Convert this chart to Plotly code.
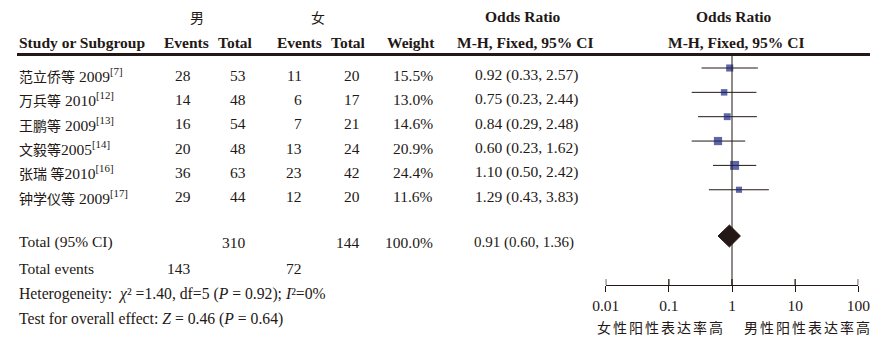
import math
import re
import plotly.graph_objects as go

W, H = 894, 341

# ---- data ----
studies = ["范立侨等 2009", "万兵等 2010", "王鹏等 2009", "文毅等2005", "张瑞 等2010", "钟学仪等 2009"]
refs = ["[7]", "[12]", "[13]", "[14]", "[16]", "[17]"]
male_events = [28, 14, 16, 20, 36, 29]
male_total = [53, 48, 54, 48, 63, 44]
female_events = [11, 6, 7, 13, 23, 12]
female_total = [20, 17, 21, 24, 42, 20]
weights = [15.5, 13.0, 14.6, 20.9, 24.4, 11.6]
odds = [0.92, 0.75, 0.84, 0.60, 1.10, 1.29]
ci_low = [0.33, 0.23, 0.29, 0.23, 0.50, 0.43]
ci_high = [2.57, 2.44, 2.48, 1.62, 2.42, 3.83]

pooled_or, pooled_low, pooled_high = 0.91, 0.60, 1.36
total_male, total_female = 310, 144
events_male, events_female = 143, 72
chi2, df, p_het, i2 = 1.40, 5, 0.92, 0
z_val, p_z = 0.46, 0.64

tick_vals = [0.01, 0.1, 1, 10, 100]
tick_text = ["0.01", "0.1", "1", "10", "100"]

# ---- styling ----
INK = "#231815"
SQUARE = "#1a2580"
SERIF = "Liberation Serif, Noto Sans CJK SC, serif"
CJK = "Noto Sans CJK SC, sans-serif"
FS = 15.5

# vertical layout (pixel rows; the y axis maps 1:1 to pixels)
AXIS_Y = 285
ROW0_MARK, ROW0_TEXT, ROW_STEP = 68, 75, 24.35
TOTAL_MARK, TOTAL_TEXT = 236, 242

mark_y = [ROW0_MARK + ROW_STEP * i for i in range(len(studies))]
text_y = [ROW0_TEXT + ROW_STEP * i for i in range(len(studies))]

fig = go.Figure()

# confidence intervals + weighted squares
fig.add_trace(go.Scatter(
    x=odds, y=mark_y, mode="markers",
    marker=dict(symbol="square", color=SQUARE,
                size=[1.8 * math.sqrt(w) for w in weights], line=dict(width=0)),
    error_x=dict(type="data", symmetric=False,
                 array=[h - o for h, o in zip(ci_high, odds)],
                 arrayminus=[o - l for o, l in zip(odds, ci_low)],
                 color=INK, thickness=1, width=0),
    hoverinfo="skip", showlegend=False, cliponaxis=False,
))

# pooled diamond
fig.add_trace(go.Scatter(
    x=[pooled_low, pooled_or, pooled_high, pooled_or, pooled_low],
    y=[TOTAL_MARK, TOTAL_MARK - 11, TOTAL_MARK, TOTAL_MARK + 11, TOTAL_MARK],
    mode="lines", fill="toself", fillcolor=INK, line=dict(color=INK, width=1),
    hoverinfo="skip", showlegend=False,
))

fig.update_layout(
    width=W, height=H,
    margin=dict(l=0, r=0, t=0, b=0, pad=0, autoexpand=False),
    paper_bgcolor="white", plot_bgcolor="white",
    xaxis=dict(type="log", range=[-2, 2], domain=[605.7 / W, 858.3 / W], automargin=False,
               showgrid=False, zeroline=False, showline=True, linecolor=INK, linewidth=1.3,
               tickmode="array", tickvals=tick_vals, ticktext=tick_text,
               ticks="outside", ticklen=6, tickwidth=1.3, tickcolor=INK,
               ticklabelstandoff=0,
               tickfont=dict(family=SERIF, size=FS, color=INK)),
    yaxis=dict(range=[AXIS_Y, 0], domain=[1 - AXIS_Y / H, 1], visible=False, automargin=False,
               showgrid=False, zeroline=False),
)

# upper half of the axis tick marks
for v in tick_vals:
    fig.add_shape(type="line", xref="x", yref="y", x0=v, x1=v, y0=AXIS_Y - 6, y1=AXIS_Y,
                  line=dict(color=INK, width=1.3))

# line of no effect
fig.add_shape(type="line", xref="x", yref="y", x0=1, x1=1, y0=54.5, y1=AXIS_Y,
              line=dict(color=INK, width=1))
# header rule
fig.add_shape(type="line", xref="paper", yref="y", x0=17 / W, x1=870 / W, y0=54.5, y1=54.5,
              line=dict(color=INK, width=3))


def txt(s, x, y, anchor="center", size=FS, family=SERIF):
    fig.add_annotation(text=s, x=x / W, y=1 - y / H, xref="paper", yref="paper",
                       xanchor=anchor, yanchor="middle", showarrow=False,
                       font=dict(family=family, size=size, color=INK))


def study_label(name, ref):
    # Chinese author part set in its own size, Latin year at body size
    m = re.match(r"^(\D+?)(\s?)(\d+)$", name)
    author, gap, year = m.group(1), m.group(2), m.group(3)
    gap_html = "&nbsp;" if gap else ""
    return f"<span style='font-size:14px'>{author}</span>{gap_html}{year}<sup>{ref}</sup>"


# group headers
txt("男", 197, 17, size=14, family=CJK)
txt("女", 318, 17, size=14, family=CJK)
txt("<b>Odds Ratio</b>", 523, 17)
txt("<b>Odds Ratio</b>", 734, 17)

# column headers
HY = 42
txt("<b>Study or Subgroup</b>", 17, HY, anchor="left")
txt("<b>Events</b>", 186, HY)
txt("<b>Total</b>", 235, HY)
txt("<b>Events</b>", 299.5, HY)
txt("<b>Total</b>", 348.5, HY)
txt("<b>Weight</b>", 411, HY)
txt("<b>M-H, Fixed, 95% CI</b>", 525, HY)
txt("<b>M-H, Fixed, 95% CI</b>", 736, HY)

# study rows
for i, name in enumerate(studies):
    y = text_y[i]
    txt(study_label(name, refs[i]), 17, y, anchor="left")
    txt(str(male_events[i]), 193, y, anchor="right")
    txt(str(male_total[i]), 248, y, anchor="right")
    txt(str(female_events[i]), 304, y, anchor="right")
    txt(str(female_total[i]), 362, y, anchor="right")
    txt(f"{weights[i]:.1f}%", 435, y, anchor="right")
    txt(f"{odds[i]:.2f} ({ci_low[i]:.2f}, {ci_high[i]:.2f})", 526, y)

# pooled row
txt("Total (95% CI)", 17, TOTAL_TEXT, anchor="left")
txt(str(total_male), 248, TOTAL_TEXT, anchor="right")
txt(str(total_female), 362, TOTAL_TEXT, anchor="right")
txt(f"{sum(weights):.1f}%", 435, TOTAL_TEXT, anchor="right")
txt(f"{pooled_or:.2f} ({pooled_low:.2f}, {pooled_high:.2f})", 524, TOTAL_TEXT, size=15)

txt("Total events", 17, 268, anchor="left")
txt(str(events_male), 193, 268, anchor="right")
txt(str(events_female), 304, 268, anchor="right")

txt(f"Heterogeneity:&nbsp; <i>χ</i>² ={chi2:.2f}, df={df} (<i>P</i> = {p_het:.2f}); <i>I</i>²={i2}%",
    17, 294, anchor="left", size=15.7)
txt(f"Test for overall effect: <i>Z</i> = {z_val:.2f} (<i>P</i> = {p_z:.2f})",
    17, 319, anchor="left", size=15.7)

# direction labels under the axis
txt("<span style='letter-spacing:2px'>女性阳性表达率高</span>", 661, 327, size=14, family=CJK)
txt("<span style='letter-spacing:2px'>男性阳性表达率高</span>", 808, 327, size=14, family=CJK)

fig.write_html("out.html")
